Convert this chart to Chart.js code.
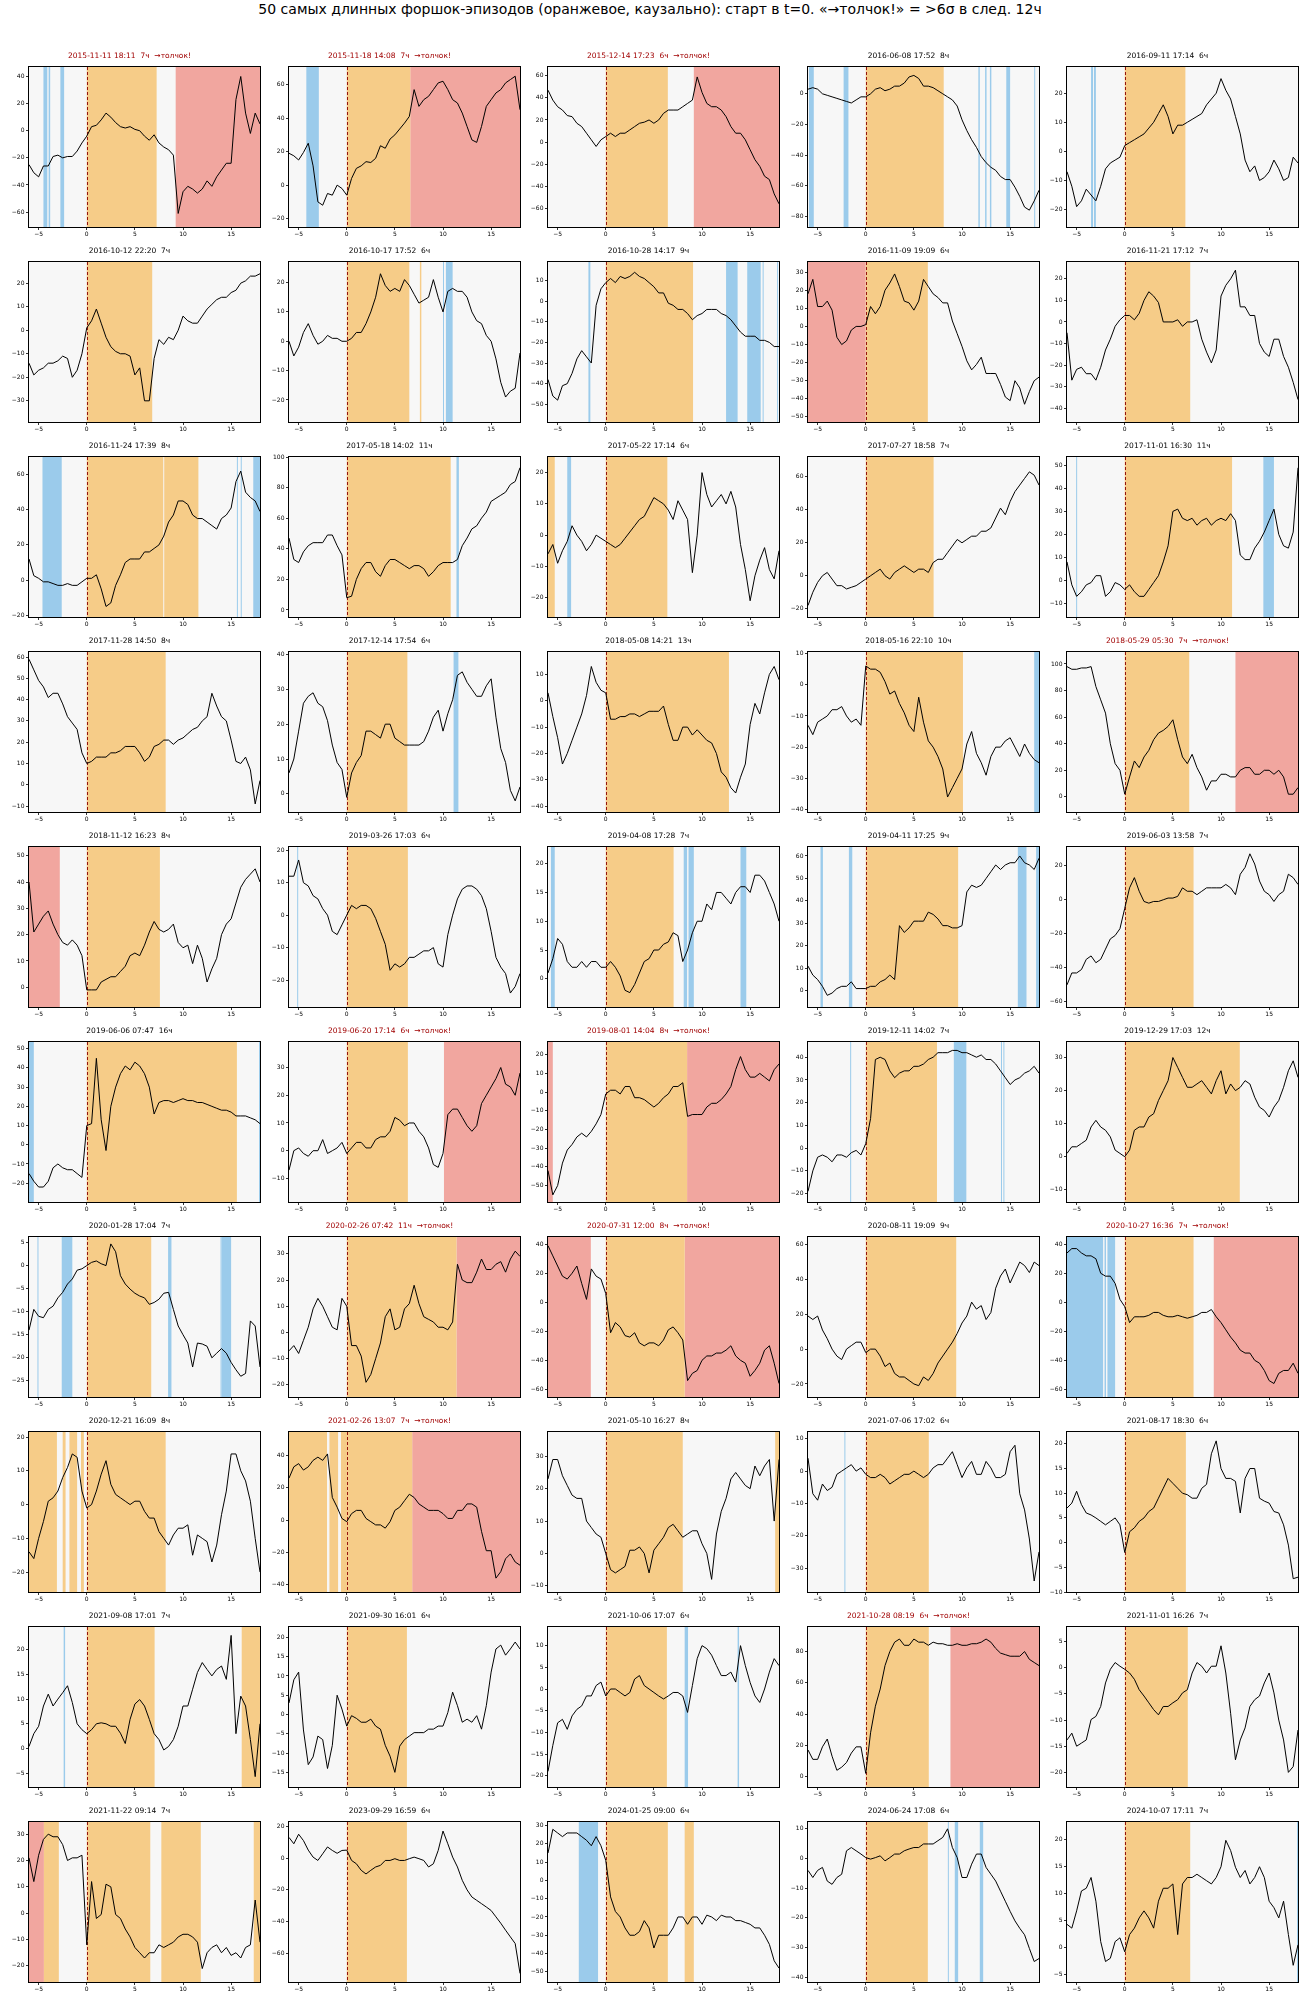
<!DOCTYPE html>
<html>
<head>
<meta charset="utf-8">
<script src="https://cdn.jsdelivr.net/npm/chart.js@4.4.1/dist/chart.umd.min.js"></script>
<style>
  body { margin: 0; background: #fff; font-family: 'DejaVu Sans', sans-serif; }
  #page { position: relative; width: 1300px; height: 2000px; }
  #suptitle { position: absolute; top: 1px; left: 0; width: 1300px; text-align: center; font-size: 14px; color: #000; }
  .panel { position: absolute; }
</style>
</head>
<body>
<div id="page">
  <div id="suptitle">50 самых длинных форшок-эпизодов (оранжевое, каузально): старт в t=0. «→толчок!» = &gt;6σ в след. 12ч</div>
</div>
<script>
// hours relative to the episode start, half-hour steps
const hours = [-6,-5.5,-5,-4.5,-4,-3.5,-3,-2.5,-2,-1.5,-1,-0.5,0,0.5,1,1.5,2,2.5,3,3.5,4,4.5,5,5.5,6,6.5,
  7,7.5,8,8.5,9,9.5,10,10.5,11,11.5,12,12.5,13,13.5,14,14.5,15,15.5,16,16.5,17,17.5,18];

const starts = [
  '2015-11-11 18:11','2015-11-18 14:08','2015-12-14 17:23','2016-06-08 17:52','2016-09-11 17:14',
  '2016-10-12 22:20','2016-10-17 17:52','2016-10-28 14:17','2016-11-09 19:09','2016-11-21 17:12',
  '2016-11-24 17:39','2017-05-18 14:02','2017-05-22 17:14','2017-07-27 18:58','2017-11-01 16:30',
  '2017-11-28 14:50','2017-12-14 17:54','2018-05-08 14:21','2018-05-16 22:10','2018-05-29 05:30',
  '2018-11-12 16:23','2019-03-26 17:03','2019-04-08 17:28','2019-04-11 17:25','2019-06-03 13:58',
  '2019-06-06 07:47','2019-06-20 17:14','2019-08-01 14:04','2019-12-11 14:02','2019-12-29 17:03',
  '2020-01-28 17:04','2020-02-26 07:42','2020-07-31 12:00','2020-08-11 19:09','2020-10-27 16:36',
  '2020-12-21 16:09','2021-02-26 13:07','2021-05-10 16:27','2021-07-06 17:02','2021-08-17 18:30',
  '2021-09-08 17:01','2021-09-30 16:01','2021-10-06 17:07','2021-10-28 08:19','2021-11-01 16:26',
  '2021-11-22 09:14','2023-09-29 16:59','2024-01-25 09:00','2024-06-24 17:08','2024-10-07 17:11'
];
const durations = [7,7,6,8,6, 7,6,9,6,7, 8,11,6,7,11, 8,6,13,10,7, 8,6,7,9,7,
                   16,6,8,7,12, 7,11,8,9,7, 8,7,8,6,6, 7,6,6,6,7, 7,6,6,6,7];
const shocks = [1,1,1,0,0, 0,0,0,0,0, 0,0,0,0,0, 0,0,0,0,1, 0,0,0,0,0,
                0,1,1,0,0, 0,1,1,0,1, 0,1,0,0,0, 0,0,0,1,0, 0,0,0,0,0];

// series values, one per episode
const ep01 = [-25,-31,-34,-26,-26,-19,-18,-20,-19,-19,-15,-9,-4,3,4,8,13,10,6,3,2,3,1,0,-4,-7,-3,-9,-12,-14,-18,-61,-45,-41,-43,-46,-43,-37,-41,-34,-29,-24,-24,23,40,13,-2,13,5];
const ep02 = [19,17.5,15,19.5,25,11.5,-10,-12,-5,-6,0,-2,-6,4,10,11.5,14,13.5,16,23.5,22,27.5,30,33.5,37,41,57,47,51,53,57,61,62,57,51,49,43,35,27,25.5,35,47,51,55,57,61,63,65,45];
const ep03 = [47,38,32,29,24,23,17,14,8,2,-4,2,5,8,5,8,8,11,14,17,18,20,17,20,26,29,29,29,32,35,38,59,45,35,32,32,29,23,14,8,8,2,-7,-16,-22,-31,-34,-47,-56];
const ep04 = [3,4,3,0,-1,-2,-3,-4,-5,-6,-4,-2,-2,0,3,4,2,3,5,5,7,11,12,10,5,5,4,2,0,-2,-4,-8,-17,-24,-30,-35,-41,-45,-48,-50,-54,-56,-56,-61,-67,-74,-76,-70,-63];
const ep05 = [-7,-12,-19,-17,-13,-15,-17,-12,-6,-4,-3,-2,2,3,4,5,6,8,10,13,16,12,6,9,9,10,11,12,13,16,18,20,25,21,18,12,6,-3,-7,-5,-10,-9,-7,-3,-6,-10,-9,-2,-4];
const ep06 = [-14,-19,-17,-16,-14,-14,-13,-11,-12,-20,-17,-10,1,4,9,3,-3,-7,-9,-10,-10,-11,-19,-16,-30,-30,-12,-4,-6,-3,-4,0,6,4,3,3,6,9,11,13,14,14,16,17,20,21,23,23,24];
const ep07 = [0,-5,-2,3,6,2,-1,0,2,1,1,0,0,1,3,3,6,10,15,23,19,17,18,17,21,19,16,13,14,15,21,15,10,17,18,17,17,15,10,7,6,2,0,-6,-14,-19,-17,-16,-4];
const ep08 = [-38,-46,-48,-41,-40,-35,-28,-24,-27,-30,-2,6,9,11,9,12,11,12,14,12,11,9,7,4,4,-1,-2,-4,-4,-6,-9,-7,-6,-4,-4,-4,-6,-7,-9,-12,-15,-17,-17,-17,-19,-19,-20,-22,-22];
const ep09 = [18,26,11,11,14,9,-6,-10,-8,-2,0,0,1,11,7,11,20,24,29,22,14,13,9,14,26,22,18,16,13,13,3,-4,-11,-19,-24,-21,-17,-26,-26,-26,-32,-39,-41,-30,-34,-43,-36,-30,-28];
const ep10 = [-5,-27,-22,-21,-24,-24,-27,-21,-13,-8,-2,1,3,3,1,4,10,14,12,9,0,0,0,1,-2,0,0,1,-8,-14,-19,-13,12,17,20,24,7,7,3,3,-10,-14,-16,-8,-8,-16,-21,-28,-36];
const ep11 = [12,2.5,1,-1,-1,-2,-3,-3,-2,-3,-3,-1,1,1,3,-5,-15,-13,-3,3,10,12,12,12,16,16,18,20,25,33,37,45,45,43,37,35,35,33,31,29,35,37,41,56,62,50,47,45,39];
const ep12 = [47,33,31,38,42,44,44,44,49,49,42,36,8,9,20,27,31,31,25,22,29,33,33,31,29,27,29,29,27,22,25,29,31,31,31,33,42,47,53,55,60,64,71,73,75,77,82,84,93];
const ep13 = [-6,-3,-9,-5,-2,3,0,-2,-5,-3,0,-1,-2,-3,-4,-3,-1,1,3,5,6,9,12,11,10,8,5,11,8,5,-12,0,20,13,9,11,13,10,14,9,-3,-11,-21,-13,-8,-4,-11,-14,-5];
const ep14 = [-18,-10,-4,0,2,-2,-6,-6,-8,-7,-6,-4,-2,0,2,4,0,-2,2,4,6,4,2,4,4,2,8,10,10,14,18,22,20,22,24,24,27,27,29,35,41,37,45,51,55,59,63,61,55];
const ep15 = [8,-2,-7,-5,-2,-1,2,2,-7,-5,-1,-2,-4,-2,-5,-7,-7,-4,-1,2,8,15,30,31,27,26,27,24,26,27,24,26,27,26,29,26,11,9,9,14,17,21,26,31,20,15,14,21,49];
const ep16 = [59,54,49,46,41,43,43,38,32,29,26,15,10,11,13,13,13,15,15,16,18,18,18,15,11,13,18,19,21,21,19,21,22,24,26,27,30,32,43,37,32,30,21,11,10,13,7,-9,2];
const ep17 = [6,10,18,26,28,29,26,25,21,14,9,7,-1,6,9,11,18,18,17,16,20,20,16,15,14,14,14,14,15,18,22,24,18,23,27,34,35,32,30,28,28,31,33,22,13,9,1,-2,2];
const ep18 = [3,-6,-14,-24,-20,-15,-10,-5,2,13,7,4,3,-7,-7,-6,-6,-5,-5,-6,-5,-4,-4,-4,-2,-9,-15,-15,-10,-10,-13,-11,-13,-15,-16,-20,-27,-29,-33,-35,-29,-24,-9,-1,-5,3,10,13,8];
const ep19 = [-13,-16,-12,-11,-10,-8,-8,-7,-10,-12,-11,-13,6,5,5,4,1,-3,-2,-6,-9,-13,-15,-4,-12,-18,-20,-23,-27,-36,-33,-30,-27,-19,-15,-22,-25,-29,-23,-20,-20,-18,-17,-20,-23,-19,-22,-24,-25];
const ep20 = [98,96,96,97,97,98,83,73,63,40,25,20,2,15,27,22,30,35,43,48,50,53,58,43,30,25,32,22,15,5,12,12,17,17,15,15,20,22,22,17,17,20,20,17,20,15,2,2,7];
const ep21 = [40,21,24,27,29,24,20,17,16,18,16,12,-1,-1,-1,2,3,4,4,6,8,12,13,12,16,21,25,22,21,22,24,17,15,16,9,16,11,2,7,11,20,24,26,32,38,41,43,45,40];
const ep22 = [12,12,17,10,9,6,5,2,0,-5,-6,-3,0,3,2,3,3,2,-1,-5,-9,-17,-15,-16,-15,-13,-13,-12,-11,-11,-10,-15,-16,-6,0,5,8,9,9,8,6,2,-5,-13,-16,-18,-24,-22,-18];
const ep23 = [1,3.5,7,6,3,2,2,3,2,3,3,2,2,3,2,0.5,-2,-2.4,-1,1,3,3.5,5,5,6,6.4,8,7.5,3,5,8,10,10,13,12,15,15,14,13,15,16,16,15,18,18,17,15,13,10];
const ep24 = [11,7,5,2,-2,-1,1,2,2,4,1,1,1,2,2,4,5,7,5,29,26,28,31,31,31,35,34,32,29,29,28,28,29,44,47,46,47,50,53,56,54,56,57,57,60,57,56,54,59];
const ep25 = [-50,-43,-43,-41,-35,-33,-37,-35,-29,-23,-21,-17,-5,7,13,5,-1,-2,-1,-1,0,1,1,2,7,5,5,3,5,7,7,7,7,9,7,3,15,19,27,21,11,5,3,-1,3,5,15,13,9];
const ep26 = [-15,-19,-22,-22,-19,-12,-10,-12,-13,-13,-15,-17,10,11,45,13,-3,20,30,37,41,39,43,41,37,30,16,22,23,23,22,23,24,23,23,22,22,21,20,19,18,18,17,15,15,15,14,13,11];
const ep27 = [-7,0,1,-1,-2,0,0,4,-1,0,1,3,-1,1,3,3,1,1,4,5,5,7,12,11,9,10,10,7,5,1,-5,-6,-1,13,15,15,12,9,7,9,17,20,23,26,30,24,23,20,28];
const ep28 = [-42,-55,-50,-38,-31,-28,-24,-22,-24,-21,-17,-12,-1,1,1,-1,3,3,-3,-3,-4,-6,-8,-6,-3,-1,3,3,5,-13,-12,-12,-12,-8,-6,-6,-4,-1,3,12,19,12,8,8,10,8,6,12,15];
const ep29 = [-19,-10,-4,-3,-4,-6,-3,-3,-4,-2,-1,-3,2,13,39,40,39,34,31,33,34,34,36,36,37,39,40,42,42,42,43,43,42,42,41,40,41,39,39,37,34,31,28,30,31,33,34,36,33];
const ep30 = [1,3,3,4,5,9,11,9,8,6,2,1,0,2,8,9,9,12,13,17,20,23,30,27,24,21,21,22,23,21,19,23,26,19,22,20,21,23,22,18,15,14,12,15,17,21,26,29,24];
const ep31 = [-14,-9.5,-11,-11.3,-9.5,-8.8,-7,-5.8,-4,-2.9,-1,-0.7,0,0.7,1,0.4,0,4.7,3,-2.2,-4,-5.1,-6,-6.6,-7,-8.4,-8,-7.3,-6,-5.8,-9.5,-13.1,-15,-16.8,-22,-16.8,-17,-17.5,-20,-19,-18,-19,-21,-22.6,-24,-23.4,-12,-13.1,-22];
const ep32 = [-7,-5,-8,-3,2,9,13,10,6,2,1,13,10,-5,-5,-9,-19,-16,-10,-4,6,9,1,2,9,11,18,11,6,5,4,2,2,1,4,26,20,19,19,23,28,24,24,26,27,23,28,31,29];
const ep33 = [39,32,25,18,16,20,25,13,2,23,18,16,6,-21,-14,-17,-23,-24,-21,-28,-30,-28,-28,-30,-26,-19,-17,-21,-26,-54,-49,-47,-40,-37,-37,-35,-35,-33,-30,-37,-40,-42,-51,-47,-42,-33,-30,-42,-56];
const ep34 = [19,17,19,11,6,0,-4,-6,0,2,4,4,-2,0,0,-4,-10,-8,-14,-16,-16,-18,-20,-21,-16,-18,-14,-8,-4,0,4,9,15,19,27,23,25,17,21,35,42,46,38,44,50,48,44,50,48];
const ep35 = [34,37,37,34,32,32,30,20,18,18,13,2,-3,-14,-10,-10,-10,-9,-7,-7,-9,-10,-10,-9,-10,-11,-10,-9,-7,-7,-5,-10,-14,-19,-24,-28,-33,-35,-35,-40,-42,-47,-54,-56,-49,-47,-47,-42,-49];
const ep36 = [-14,-16,-10,-5,1,2,4,8,11,15,14,4,-1,0,4,9,13,6,3,2,1,0,1,1,-2,-4,-4,-8,-10,-12,-9,-7,-7,-6,-15,-9,-10,-11,-17,-12,-3,4,15,15,10,7,1,-10,-20];
const ep37 = [26,33,35,31,33,37,39,37,41,14,8,1,-1,4,6,6,1,-1,-3,-3,-5,-1,6,8,12,16,14,10,8,6,6,6,4,1,1,6,6,10,10,8,-7,-19,-19,-36,-32,-24,-21,-26,-28];
const ep38 = [23,29,29,24,21,18,17,17,10,8,6,5,0,-5,-6,-5,-4,1,1,2,0,-6,1,3,5,8,9,7,5,6,7,7,3,0,-8,6,13,17,23,25,23,21,20,27,24,27,29,10,29];
const ep39 = [4,-7,-9,-4,-6,-5,-1,0,1,2,0,1,-1,-2,-2,-1,-2,-4,-3,-2,-1,-1,0,-1,-2,-1,1,2,2,4,6,2,-2,1,3,-1,-1,3,1,-2,-2,-1,6,8,-7,-12,-21,-34,-25];
const ep40 = [7,8,10.4,7.7,6,5.6,5,4.3,3.6,4.3,5,3.6,-2,2.2,3,4.3,5,6.3,7,9,11,13,12,11,10,9.7,9,9,11,11.8,18,20.6,15,13,13,12.4,6,13,15,15,9,8.4,8,6.3,6,3.6,-0.5,-7.3,-7];
const ep41 = [0.4,3,4.5,8.6,11,8.6,10,11.3,12.7,9.3,5,3.8,3,3.8,5,5.2,5,4.5,4.5,3.1,1,5.9,9,9.9,8.6,5.9,3,1.8,-0.3,0.4,1.8,4.5,8.6,8.6,12,15.4,17.4,16,14.7,16,16.7,14,22.9,3,10.6,8.6,1.8,-5.7,5];
const ep42 = [3,9,11,-4,-13,-11,-5.6,-6.5,-14,-8,5,1.4,-3,-0.3,-1,-2,-2,-1.2,-3,-3.8,-8,-10.8,-15,-8.2,-6.5,-5.6,-4.7,-4.7,-4.7,-3.8,-3.8,-3,-3,0.5,5.8,2.3,-2,-1.2,-2,-0.3,-3.8,2.3,11,17,18,15.4,17,18.8,17];
const ep43 = [-19,-13,-7.8,-7,-9.3,-6.2,-4.7,-3.9,-1.6,-1.6,0.8,1.6,-1.6,0,0,-0.8,-1.6,-0.8,2.3,3.1,0.8,0,-0.8,-1.6,-2.3,-1.6,-0.8,-0.8,-1.6,-5.4,0.8,7,10,9.3,7.8,5.4,3.1,3.1,3.9,1.6,10,5.4,1.5,-1.6,-3.1,0,3.9,7,5.4];
const ep44 = [17,11,11,19,24,13,4,6,9,15,19,19,2,28,45,56,71,80,86,88,84,84,88,86,86,84,86,85,85,84,84,85,84,84,85,85,86,88,86,82,79,78,77,77,77,80,75,73,71];
const ep45 = [-13.8,-12.5,-15,-14.4,-13.8,-9.9,-9.3,-7.4,-2.9,-0.3,1,0.3,-0.3,-1,-2.2,-4.2,-5.4,-6.7,-8,-9,-7.4,-7.4,-6.7,-6.1,-4.8,-4.2,-1,1,0.3,-1,0.3,0.3,4.2,-1,-8.7,-17.6,-13.8,-11.5,-7.4,-6.1,-5.4,-2.9,-1,-4.8,-10,-13.8,-20,-18.9,-11.9];
const ep46 = [21,12,22,28,30,29,29,26,20,21,21,22,-12,12,-2,-0.5,11,10,-0.5,-2,-6,-9,-13,-15,-17,-15,-15,-12,-13,-12,-11,-9,-8,-8,-9,-11,-21,-15,-13,-12,-15,-13,-16,-15,-17,-13,-12,5,-11];
const ep47 = [13,9,15,11,5,0.6,-1.5,2.7,7,4.8,3,4.8,5,-1.5,-3.6,-7.7,-10,-7.7,-5.6,-4.6,-1.5,-1.5,-0.4,-1.5,-1.5,-0.4,0.6,-0.4,-1.5,-5.6,-3.6,4.8,17,9,0.6,-5.6,-14,-20,-24.5,-26.6,-28.7,-30.8,-33,-37,-41,-45.4,-49.6,-53.8,-72.6];
const ep48 = [15,28,26,24,26,26,26,24,22,19,24,19,11,-9,-17,-20,-26,-30,-30,-28,-22,-26,-37,-30,-30,-30,-26,-20,-20,-24,-20,-20,-24,-19,-20,-22,-19,-20,-20,-22,-22,-23,-24,-26,-26,-30,-35,-44,-48];
const ep49 = [-4,-6.4,-4,-3,-7.6,-8.7,-6.4,-5.3,2.6,3.7,2.6,1.5,0.3,-0.2,0.3,0.9,-0.8,0.3,1.5,1.5,2.6,3.2,3.7,3.7,4.9,4.9,4.9,6,7.1,10,3.7,0.3,-6.4,-6.4,-1.9,1.5,1.5,-3,-5.3,-7.6,-11,-14.4,-17.8,-21,-23.5,-25.7,-30.3,-34.7,-33.7];
const ep50 = [4.3,3.6,6.8,10.5,11,13,8.6,1.1,-2.6,-2,1.1,1.8,-0.8,2.4,3.6,5.5,6.8,5.5,3.6,8.6,11,11,11.8,2.4,11.8,13,13,13.6,13,12.4,11.8,13,15,19.9,18,14.9,13,14.3,11.8,13,15,13,8.6,7.4,5.5,8.6,2.4,-3.3,0.5];

const series = [ep01,ep02,ep03,ep04,ep05,ep06,ep07,ep08,ep09,ep10,ep11,ep12,ep13,ep14,ep15,ep16,ep17,ep18,ep19,ep20,
  ep21,ep22,ep23,ep24,ep25,ep26,ep27,ep28,ep29,ep30,ep31,ep32,ep33,ep34,ep35,ep36,ep37,ep38,ep39,ep40,
  ep41,ep42,ep43,ep44,ep45,ep46,ep47,ep48,ep49,ep50];

// shaded intervals in hours: foreshock (orange), other flags (blue), shock window (red)
const orangeSpans = [
  [[0,7.26]],[[0,6.6]],[[0,6.45]],[[0,8.1]],[[0,6.3]],
  [[0,6.8]],[[0,6.5],[7.6,7.75]],[[0,9.07]],[[0,6.45]],[[0,6.8]],
  [[0,7.95],[8.05,11.6]],[[0,10.8]],[[-6,-5.3],[0,6.4]],[[0,7.05]],[[0,11.15]],
  [[0,8.2]],[[0,6.3]],[[0,12.8]],[[0,10.1]],[[0,6.7]],
  [[0,7.6]],[[0,6.35]],[[0,7.05]],[[0,9.6]],[[0,7.15]],
  [[0,15.6]],[[0,6.35]],[[0,8.45]],[[0,7.4]],[[0,11.95]],
  [[0,6.7]],[[0,11.4]],[[0,8.2]],[[0,9.4]],[[0,7.15]],
  [[-6,-3.1],[-2.5,-2.2],[-1.8,-1.0],[-0.6,-0.3],[0,8.2]],[[-6,-2.05],[-1.8,-0.9],[-0.6,6.8]],[[0,8.0],[17.6,18]],[[0,6.55]],[[0,6.35]],
  [[0,7.05],[16.1,18]],[[0,6.25]],[[0,6.35]],[[0,6.55]],[[0,6.55]],
  [[-4.45,-2.9],[0,6.6],[7.75,11.85],[17.35,18]],[[0,6.25]],[[0,6.45],[8.2,9.15]],[[0,6.45]],[[0,6.8]]
];
const blueSpans = [
  [[-4.5,-4.1],[-3.96,-3.8],[-2.74,-2.35]],[[-4.2,-2.9]],[],
  [[-5.9,-5.4],[-2.3,-1.8],[11.7,11.85],[12.4,12.55],[12.9,13.05],[14.6,15.0],[17.5,17.6]],[[-3.5,-3.3],[-3.2,-3.0]],
  [],[[10.0,10.1],[10.3,11.0]],[[-1.8,-1.6],[12.5,13.7],[14.7,16.1],[16.3,16.35],[17.8,17.9]],[],[],
  [[-4.6,-2.6],[15.6,15.65],[16.0,16.05],[17.3,18]],[[11.4,11.65]],[[-4.0,-3.6]],[],[[-5.05,-4.95],[14.4,15.5]],
  [],[[11.1,11.6]],[],[[17.5,18]],[],
  [],[[-5.15,-5.05]],[[-5.7,-5.3],[8.1,8.45],[8.6,9.15],[14.0,14.6]],[[-4.7,-4.45],[-1.75,-1.4],[15.8,16.7],[17.7,18]],[],
  [[-6,-5.5],[17.9,18]],[],[],[[-1.62,-1.58],[9.15,10.45],[14.05,14.15],[14.3,14.4]],[],
  [[-5.12,-5.08],[-2.6,-1.5],[8.45,8.8],[13.9,13.95],[14.0,15.0]],[],[],[],[[-6,-2.25],[-2.1,-1.95],[-1.8,-1.0]],
  [],[],[],[[-2.22,-2.18]],[],
  [[-2.4,-2.25]],[],[[8.2,8.55],[13.7,13.85]],[],[],
  [],[],[[-2.8,-0.8]],[[8.53,8.57],[9.25,9.6],[11.85,12.2]],[[17.9,18]]
];
const redSpans = [
  [[9.24,18]],[[6.6,18]],[[9.15,18]],[],[],
  [],[],[],[[-6,0]],[],
  [],[],[],[],[],
  [],[],[],[],[[11.5,18]],
  [[-6,-2.8]],[],[],[],[],
  [],[[10.1,18]],[[-6,-5.5],[8.45,18]],[],[],
  [],[[11.4,18]],[[-6,-1.55],[8.2,18]],[],[[9.25,18]],
  [],[[6.8,18]],[],[],[],
  [],[],[],[[8.8,18]],[],
  [[-6,-4.45]],[],[],[],[]
];

// y axis limits and tick step for each panel
const yMin = [-71,-25,-77,-87,-26, -39,-27.5,-58.6,-52.8,-46.4, -21,-4.6,-26.2,-25,-16, -12.8,-5.2,-42.2,-40.8,-11.4,
  -7.5,-28.3,-4.9,-7.2,-63, -29.8,-18.5,-58.8,-23.7,-13.7, -28.5,-24.6,-65.3,-27.5,-65.3, -25.9,-44.6,-11.9,-37.4,-10,
  -7.8,-18.8,-22.6,-6.7,-22.8, -26.1,-78,-55.6,-41.6,-6.4];
const yMax = [47,70.5,68,17.5,29, 29,27,19,35.6,27.8, 70,100,25,72,53.7, 62.4,40.7,18.5,10.5,109,
  53.3,21,22.9,64,31, 53.5,39.2,26.8,46.7,34.7, 6.2,36.4,45,64.4,45, 21.5,54.6,37.5,12.1,22.4,
  24.6,22.7,14.3,95.7,7.8, 34.6,22.7,32,12.3,23.3];
const yStep = [20,20,20,20,10, 10,10,10,10,10, 20,20,10,20,10, 10,10,10,10,20,
  10,10,5,10,20, 10,10,10,10,10, 5,10,20,20,20, 10,20,10,10,5,
  5,5,5,20,5, 10,20,10,10,5];

const FONT = 'DejaVu Sans';
const BG = '#f7f7f7';
const ORANGE = '#f6cc88';
const BLUE = '#9bcbeb';
const RED = '#f1a69f';

const spanPlugin = {
  id: 'spans',
  beforeDatasetsDraw(chart, args, opts) {
    const { ctx, chartArea: a, scales: { x } } = chart;
    ctx.save();
    ctx.fillStyle = BG;
    ctx.fillRect(a.left, a.top, a.width, a.height);
    ctx.beginPath();
    ctx.rect(a.left, a.top, a.width, a.height);
    ctx.clip();
    const fill = (list, color) => {
      ctx.fillStyle = color;
      list.forEach(([s, e]) => {
        const x0 = x.getPixelForValue(s);
        const x1 = x.getPixelForValue(e);
        ctx.fillRect(x0, a.top, Math.max(x1 - x0, 1), a.height);
      });
    };
    fill(opts.red, RED);
    fill(opts.orange, ORANGE);
    fill(opts.blue, BLUE);
    // start of the episode
    const x0 = Math.round(x.getPixelForValue(0)) + 0.5;
    ctx.strokeStyle = '#8b0000';
    ctx.lineWidth = 0.9;
    ctx.setLineDash([3, 2]);
    ctx.beginPath();
    ctx.moveTo(x0, a.top);
    ctx.lineTo(x0, a.bottom);
    ctx.stroke();
    ctx.restore();
  },
  afterDatasetsDraw(chart) {
    const { ctx, chartArea: a } = chart;
    ctx.save();
    ctx.strokeStyle = '#000';
    ctx.lineWidth = 1;
    ctx.strokeRect(Math.round(a.left) - 0.5, Math.round(a.top) - 0.5, Math.round(a.width) + 1, Math.round(a.height) + 1);
    ctx.restore();
  }
};

const minus = v => String(Math.round(v)).replace('-', '\u2212');

const page = document.getElementById('page');
const PLOT_W = 231, PLOT_H = 160;

series.forEach((vals, i) => {
  const row = Math.floor(i / 5), col = i % 5;
  const plotLeft = 29 + 259.5 * col;
  const plotTop = 67 + 195 * row;
  const div = document.createElement('div');
  div.className = 'panel';
  const w = 30 + PLOT_W + 6, h = 20 + PLOT_H + 16;
  div.style.left = (plotLeft - 30) + 'px';
  div.style.top = (plotTop - 20) + 'px';
  div.style.width = w + 'px';
  div.style.height = h + 'px';
  const canvas = document.createElement('canvas');
  canvas.width = w;
  canvas.height = h;
  div.appendChild(canvas);
  page.appendChild(div);

  const title = starts[i] + '  ' + durations[i] + 'ч' + (shocks[i] ? '  →толчок!' : '');

  new Chart(canvas, {
    type: 'line',
    data: {
      datasets: [{
        data: hours.map((hh, k) => ({ x: hh, y: vals[k] })),
        borderColor: '#000',
        borderWidth: 1,
        pointRadius: 0,
        tension: 0
      }]
    },
    options: {
      responsive: false,
      animation: false,
      layout: { padding: { left: 0, right: 6, top: 0, bottom: 0 } },
      plugins: {
        legend: { display: false },
        tooltip: { enabled: false },
        title: {
          display: true,
          text: title,
          color: shocks[i] ? '#a00000' : '#000',
          font: { family: FONT, size: 7.5, weight: 'normal' },
          padding: { top: 5, bottom: 6 }
        },
        spans: { orange: orangeSpans[i], blue: blueSpans[i], red: redSpans[i] }
      },
      scales: {
        x: {
          type: 'linear',
          min: -6,
          max: 18,
          afterFit: s => { s.height = 16; },
          border: { display: false },
          grid: { drawOnChartArea: false, drawTicks: true, tickLength: 3, color: '#000', lineWidth: 0.8 },
          ticks: {
            stepSize: 5,
            includeBounds: false,
            maxRotation: 0,
            padding: 1,
            color: '#000',
            font: { family: FONT, size: 6 },
            callback: minus
          }
        },
        y: {
          min: yMin[i],
          max: yMax[i],
          afterFit: s => { s.width = 30; },
          border: { display: false },
          grid: { drawOnChartArea: false, drawTicks: true, tickLength: 3, color: '#000', lineWidth: 0.8 },
          ticks: {
            stepSize: yStep[i],
            includeBounds: false,
            padding: 1.5,
            color: '#000',
            font: { family: FONT, size: 6 },
            callback: minus
          }
        }
      }
    },
    plugins: [spanPlugin]
  });
});
</script>
</body>
</html>
